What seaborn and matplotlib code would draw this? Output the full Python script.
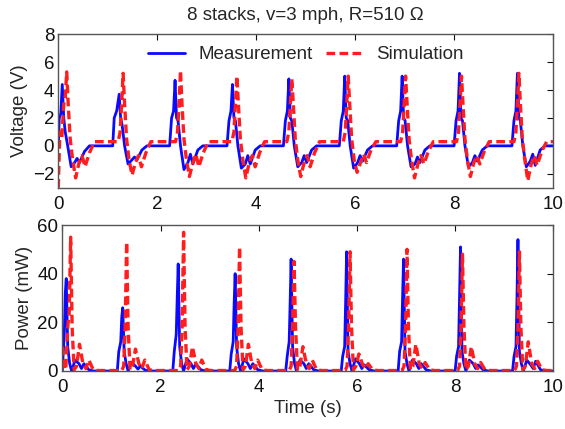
import matplotlib
matplotlib.use("Agg")
import matplotlib.pyplot as plt
import seaborn as sns
import pandas as pd

# ---------------- data ----------------
title = "8 stacks, v=3 mph, R=510 \u03a9"
series_names = ["Measurement", "Simulation"]
x_ticks = [0, 2, 4, 6, 8, 10]
v_ticks = [-2, 0, 2, 4, 6, 8]
p_ticks = [0, 20, 40, 60]

meas_t = [
    0.00, 0.02, 0.05, 0.08, 0.11, 0.14, 0.19, 0.26, 0.33, 0.38, 0.43, 0.53, 0.63,
    1.10, 1.13, 1.18, 1.23, 1.26, 1.29, 1.34, 1.41, 1.49, 1.54, 1.59, 1.69, 1.79,
    2.25, 2.29, 2.33, 2.36, 2.39, 2.42, 2.47, 2.54, 2.62, 2.67, 2.72, 2.82, 2.92,
    3.41, 3.45, 3.49, 3.52, 3.55, 3.58, 3.63, 3.70, 3.78, 3.83, 3.88, 3.98, 4.08,
    4.55, 4.59, 4.63, 4.66, 4.69, 4.72, 4.77, 4.84, 4.92, 4.97, 5.02, 5.12, 5.22,
    5.68, 5.72, 5.76, 5.79, 5.82, 5.85, 5.90, 5.97, 6.05, 6.10, 6.15, 6.25, 6.35,
    6.84, 6.88, 6.92, 6.95, 6.98, 7.01, 7.06, 7.13, 7.21, 7.26, 7.31, 7.41, 7.51,
    8.00, 8.04, 8.08, 8.11, 8.14, 8.17, 8.22, 8.29, 8.37, 8.42, 8.47, 8.57, 8.67,
    9.17, 9.21, 9.25, 9.28, 9.31, 9.34, 9.39, 9.46, 9.54, 9.59, 9.64, 9.74, 9.84, 10.00]
meas_v = [
    0.0, 2.0, 2.3, 4.4, 2.0, 1.0, 0.0, -1.5, -1.2, -0.9, -1.2, -0.4, 0.0,
    0.0, 2.0, 2.5, 3.7, 2.0, 1.5, 0.0, -1.3, -1.0, -0.8, -1.0, -0.3, 0.0,
    0.0, 2.0, 2.5, 4.7, 2.0, 1.8, 0.0, -1.7, -1.2, -0.6, -1.3, -0.3, 0.0,
    0.0, 1.8, 2.5, 4.4, 2.0, 1.8, 0.0, -1.6, -1.3, -0.7, -1.3, -0.3, 0.0,
    0.0, 1.8, 2.5, 4.8, 2.0, 1.8, 0.0, -1.5, -1.2, -0.7, -1.2, -0.3, 0.0,
    0.0, 1.8, 2.5, 5.0, 2.0, 1.8, 0.0, -1.6, -1.2, -0.7, -1.1, -0.3, 0.0,
    0.0, 1.8, 2.5, 5.0, 2.0, 1.8, 0.0, -1.5, -1.3, -0.8, -1.2, -0.3, 0.0,
    0.0, 1.8, 2.5, 5.2, 2.0, 1.8, 0.0, -1.5, -1.2, -0.7, -1.1, -0.3, 0.0,
    0.0, 1.8, 2.5, 5.2, 2.0, 1.8, 0.0, -1.5, -1.1, -0.6, -1.4, -0.3, 0.0, 0.0]

sim_t = [
    0.00, 0.03, 0.07, 0.11, 0.14, 0.17, 0.20, 0.24, 0.29, 0.35, 0.42, 0.48, 0.54, 0.63, 0.73,
    1.21, 1.25, 1.28, 1.31, 1.34, 1.38, 1.43, 1.49, 1.56, 1.62, 1.68, 1.77, 1.87,
    2.37, 2.41, 2.44, 2.47, 2.50, 2.54, 2.59, 2.65, 2.72, 2.78, 2.84, 2.93, 3.03,
    3.51, 3.55, 3.58, 3.61, 3.64, 3.68, 3.73, 3.79, 3.86, 3.92, 3.98, 4.07, 4.17,
    4.62, 4.66, 4.69, 4.72, 4.75, 4.79, 4.84, 4.90, 4.97, 5.03, 5.09, 5.18, 5.28,
    5.76, 5.80, 5.83, 5.86, 5.89, 5.93, 5.98, 6.04, 6.11, 6.17, 6.23, 6.32, 6.42,
    6.92, 6.96, 6.99, 7.02, 7.05, 7.09, 7.14, 7.20, 7.27, 7.33, 7.39, 7.48, 7.58,
    8.05, 8.09, 8.12, 8.15, 8.18, 8.22, 8.27, 8.33, 8.40, 8.46, 8.52, 8.61, 8.71,
    9.21, 9.25, 9.28, 9.31, 9.34, 9.38, 9.43, 9.49, 9.56, 9.62, 9.68, 9.77, 9.87, 10.00]
sim_v = [
    -3.0, 1.0, 0.5, 3.0, 3.5, 5.3, 3.0, 0.5, -1.0, -2.3, -1.2, -0.7, -1.5, -0.5, 0.3,
    0.3, 1.0, 3.0, 5.2, 3.0, 0.5, -1.0, -2.1, -1.2, -0.7, -1.5, -0.5, 0.3,
    0.3, 1.0, 3.0, 5.4, 3.0, 0.5, -1.0, -2.2, -1.2, -0.6, -1.5, -0.5, 0.3,
    0.3, 1.0, 3.0, 5.0, 3.0, 0.5, -1.0, -2.3, -1.2, -0.7, -1.5, -0.5, 0.3,
    0.3, 1.0, 3.0, 4.8, 3.0, 0.5, -1.0, -2.2, -1.2, -0.7, -1.5, -0.5, 0.3,
    0.3, 1.0, 3.0, 5.0, 3.0, 0.5, -1.0, -1.9, -1.2, -0.6, -1.2, -0.3, 0.3,
    0.3, 1.0, 3.0, 5.0, 3.0, 0.5, -1.0, -2.3, -1.3, -0.7, -1.3, -0.4, 0.3,
    0.3, 1.0, 3.0, 5.0, 3.0, 0.5, -1.0, -2.2, -1.2, -0.7, -1.3, -0.4, 0.3,
    0.3, 1.0, 3.0, 5.2, 3.0, 0.5, -1.0, -2.5, -1.3, -0.7, -1.4, -0.4, 0.3, 0.3]

meas_p_t = [
    0.00, 0.02, 0.04, 0.06, 0.08, 0.11, 0.15, 0.19, 0.26, 0.34, 0.39, 0.44, 0.54, 0.64,
    1.12, 1.15, 1.19, 1.21, 1.23, 1.26, 1.30, 1.34, 1.41, 1.49, 1.54, 1.59, 1.69, 1.79,
    2.25, 2.28, 2.32, 2.34, 2.36, 2.39, 2.43, 2.47, 2.54, 2.62, 2.67, 2.72, 2.82, 2.92,
    3.41, 3.44, 3.48, 3.50, 3.52, 3.55, 3.59, 3.63, 3.70, 3.78, 3.83, 3.88, 3.98, 4.08,
    4.55, 4.58, 4.62, 4.64, 4.66, 4.69, 4.73, 4.77, 4.84, 4.92, 4.97, 5.02, 5.12, 5.22,
    5.68, 5.71, 5.75, 5.77, 5.79, 5.82, 5.86, 5.90, 5.97, 6.05, 6.10, 6.15, 6.25, 6.35,
    6.84, 6.87, 6.91, 6.93, 6.95, 6.98, 7.02, 7.06, 7.13, 7.21, 7.26, 7.31, 7.41, 7.51,
    8.00, 8.03, 8.07, 8.09, 8.11, 8.14, 8.18, 8.22, 8.29, 8.37, 8.42, 8.47, 8.57, 8.67,
    9.17, 9.20, 9.24, 9.26, 9.28, 9.31, 9.35, 9.39, 9.46, 9.54, 9.59, 9.64, 9.74, 9.84, 10.00]
meas_p = [
    0, 8, 15, 32, 38, 10, 3, 0, 4.5, 3, 1, 3, 0.5, 0,
    0, 8, 12, 22, 26, 8, 3, 0, 3.5, 2, 0.8, 2, 0.3, 0,
    0, 8, 15, 30, 44, 10, 3, 0, 5, 3, 1, 3, 0.5, 0,
    0, 7, 12, 28, 40, 10, 3, 0, 5, 3, 1, 3, 0.5, 0,
    0, 6, 12, 28, 46, 10, 3, 0, 4.5, 3, 1, 3, 0.5, 0,
    0, 6, 10, 28, 49, 8, 3, 0, 5, 3, 1, 2.5, 0.5, 0,
    0, 8, 12, 30, 46, 8, 3, 0, 4.5, 3, 1, 3, 0.5, 0,
    0, 6, 10, 30, 51, 8, 3, 0, 4.5, 3, 1, 2.5, 0.5, 0,
    0, 6, 10, 30, 54, 8, 3, 0, 4.5, 2.5, 1, 4, 0.5, 0, 0]

sim_p = [
    10, 2, 0.5, 18, 24, 55, 18, 0.5, 2, 11, 3, 1, 4.5, 0.5, 0.2,
    0.2, 2, 18, 53, 18, 0.5, 2, 9, 3, 1, 4.5, 0.5, 0.2,
    0.2, 2, 18, 57, 18, 0.5, 2, 10, 3, 1, 4.5, 0.5, 0.2,
    0.2, 2, 18, 51, 18, 0.5, 2, 11, 3, 1, 4.5, 0.5, 0.2,
    0.2, 2, 18, 45, 18, 0.5, 2, 10, 3, 1, 4.5, 0.5, 0.2,
    0.2, 2, 18, 49, 18, 0.5, 2, 7, 3, 1, 3, 0.5, 0.2,
    0.2, 2, 18, 50, 18, 0.5, 2, 11, 3, 1, 3.5, 0.5, 0.2,
    0.2, 2, 18, 48, 18, 0.5, 2, 10, 3, 1, 3.5, 0.5, 0.2,
    0.2, 2, 18, 49, 18, 0.5, 2, 12, 3, 1, 4, 0.5, 0.2, 0.2]

# ---------------- styling ----------------
sns.set_style("white")
plt.rcParams["font.family"] = ["Liberation Sans", "DejaVu Sans"]
FS = 13.5
BLUE = "#0a0aff"
RED = "#ff1e1e"
SPINE = "#555555"

fig = plt.figure(figsize=(5.65, 4.29), dpi=100)
ax1 = fig.add_axes([0.1032, 0.5625, 0.8756, 0.3576])
ax2 = fig.add_axes([0.1103, 0.1352, 0.869, 0.3403])

df_v_m = pd.DataFrame({"t": meas_t, "y": meas_v})
df_v_s = pd.DataFrame({"t": sim_t, "y": sim_v})
df_p_m = pd.DataFrame({"t": meas_p_t, "y": meas_p})
df_p_s = pd.DataFrame({"t": sim_t, "y": sim_p})

dash = (0, (2.6, 1.3))
for ax, dm, ds in [(ax1, df_v_m, df_v_s), (ax2, df_p_m, df_p_s)]:
    sns.lineplot(data=dm, x="t", y="y", ax=ax, color=BLUE, lw=2.0,
                 estimator=None, sort=False, label=series_names[0])
    sns.lineplot(data=ds, x="t", y="y", ax=ax, color=RED, lw=2.4,
                 estimator=None, sort=False, linestyle=dash, label=series_names[1])

ax1.set_xlim(0, 10)
ax1.set_ylim(-3, 8)
ax1.set_yticks(v_ticks)
ax2.set_xlim(0, 10)
ax2.set_ylim(0, 60)
ax2.set_yticks(p_ticks)

for ax in (ax1, ax2):
    ax.set_xticks(x_ticks)
    ax.tick_params(direction="in", top=True, right=True, length=4, width=0.8,
                   labelsize=FS, colors="#111111", pad=3)
    ax.tick_params(axis="x", pad=6)
    for s in ax.spines.values():
        s.set_color(SPINE)
        s.set_linewidth(1.0)
    ax.set_xlabel("")
    ax.set_ylabel("")

ax1.set_ylabel("Voltage (V)", fontsize=FS, labelpad=3)
ax2.set_ylabel("Power (mW)", fontsize=FS, labelpad=3)
ax2.set_xlabel("Time (s)", fontsize=FS, labelpad=3)
ax1.set_title(title, fontsize=FS, pad=10)

ax2.get_legend().remove()
ax1.legend(loc="upper center", bbox_to_anchor=(0.5, 0.995), ncol=2, frameon=False,
           fontsize=FS, handlelength=2.0, handletextpad=0.7, columnspacing=0.7,
           borderaxespad=0.2)

fig.savefig("out.png", dpi=100)
